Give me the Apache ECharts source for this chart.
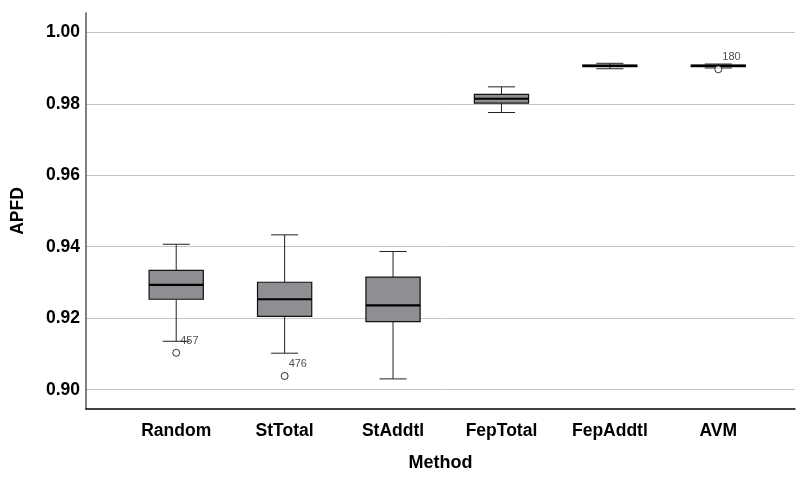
<!DOCTYPE html>
<html>
<head>
<meta charset="utf-8">
<script src="https://cdn.jsdelivr.net/npm/echarts@6/dist/echarts.min.js"></script>
<style>
html,body{margin:0;padding:0;background:#fff;}
#chart{width:796px;height:477px;}
</style>
</head>
<body>
<div id="chart"></div>
<script>
const categories = ['Random', 'StTotal', 'StAddtl', 'FepTotal', 'FepAddtl', 'AVM'];
const lowerWhisker = [0.9147, 0.9114, 0.9043, 0.9779, 0.9900, 0.9902];
const q1 = [0.9263, 0.9216, 0.9201, 0.9805, 0.99055, 0.9906];
const median = [0.9303, 0.9263, 0.9246, 0.9817, 0.9908, 0.9908];
const q3 = [0.9343, 0.9310, 0.9324, 0.9829, 0.9910, 0.9910];
const upperWhisker = [0.9415, 0.9441, 0.9395, 0.9850, 0.9915, 0.9913];
const outlierCategory = [0, 1, 5];
const outlierValue = [0.9115, 0.9051, 0.98985];
const outlierLabel = ['457', '476', '180'];
const yTickLabels = ['0.90', '0.92', '0.94', '0.96', '0.98', '1.00'];

const yMin = 0.8946, yMax = 1.0054;
const font = 'Liberation Sans, Arial, sans-serif';

const boxData = categories.map((c, i) => [i, lowerWhisker[i], q1[i], median[i], q3[i], upperWhisker[i]]);
const outlierData = outlierCategory.map((c, k) => [c, outlierValue[k], outlierLabel[k]]);

const chart = echarts.init(document.getElementById('chart'), null, {renderer: 'canvas'});
chart.setOption({
  animation: false,
  backgroundColor: '#fff',
  grid: [
    {left: 86, right: 1, top: 13, bottom: 63},
    {left: 122, right: 23.5, top: 13, bottom: 63}
  ],
  xAxis: [
    {
      gridIndex: 0, type: 'category', data: categories,
      axisLine: {show: true, lineStyle: {color: '#000', width: 1.5}},
      axisTick: {show: false}, axisLabel: {show: false}, splitLine: {show: false},
      name: 'Method', nameLocation: 'middle', nameGap: 45,
      nameTextStyle: {fontFamily: font, fontWeight: 'bold', fontSize: 18, color: '#000'}
    },
    {
      gridIndex: 1, type: 'category', data: categories,
      axisLine: {show: false}, axisTick: {show: false}, splitLine: {show: false},
      axisLabel: {fontFamily: font, fontWeight: 'bold', fontSize: 17.5, color: '#000', margin: 8}
    }
  ],
  yAxis: [
    {
      gridIndex: 0, type: 'value', min: yMin, max: yMax, splitNumber: 5,
      axisLine: {show: true, lineStyle: {color: '#555', width: 1.5}},
      axisTick: {show: false},
      splitLine: {show: true, showMinLine: false, showMaxLine: false, lineStyle: {color: '#c4c4c4', width: 1}},
      axisLabel: {
        showMinLabel: false, showMaxLabel: false, margin: 6,
        fontFamily: font, fontWeight: 'bold', fontSize: 17.5, color: '#000',
        formatter: v => {
          const s = v.toFixed(2);
          return yTickLabels.indexOf(s) >= 0 ? s : '';
        }
      },
      name: 'APFD', nameLocation: 'middle', nameGap: 59,
      nameTextStyle: {fontFamily: font, fontWeight: 'bold', fontSize: 17.5, color: '#000'}
    },
    {gridIndex: 1, type: 'value', min: yMin, max: yMax, show: false, splitLine: {show: false}}
  ],
  series: [
    {
      type: 'custom', xAxisIndex: 1, yAxisIndex: 1,
      data: boxData,
      encode: {x: 0, y: [1, 2, 3, 4, 5]},
      renderItem: function (params, api) {
        const i = api.value(0);
        const band = api.size([1, 0])[0];
        const bw = band * 0.5;
        const cw = bw * 0.5;
        const lo = api.coord([i, api.value(1)]);
        const b1 = api.coord([i, api.value(2)]);
        const md = api.coord([i, api.value(3)]);
        const b3 = api.coord([i, api.value(4)]);
        const hi = api.coord([i, api.value(5)]);
        const x = lo[0];
        const ws = {stroke: '#222', lineWidth: 1};
        return {
          type: 'group',
          children: [
            {type: 'line', shape: {x1: x, y1: lo[1], x2: x, y2: b1[1]}, style: ws},
            {type: 'line', shape: {x1: x, y1: b3[1], x2: x, y2: hi[1]}, style: ws},
            {type: 'line', shape: {x1: x - cw / 2, y1: lo[1], x2: x + cw / 2, y2: lo[1]}, style: ws},
            {type: 'line', shape: {x1: x - cw / 2, y1: hi[1], x2: x + cw / 2, y2: hi[1]}, style: ws},
            {type: 'rect', shape: {x: x - bw / 2, y: b3[1], width: bw, height: b1[1] - b3[1]},
              style: {fill: '#8f8f93', stroke: '#111', lineWidth: 1.2}},
            {type: 'line', shape: {x1: x - bw / 2, y1: md[1], x2: x + bw / 2, y2: md[1]},
              style: {stroke: '#000', lineWidth: 2.2}}
          ]
        };
      }
    },
    {
      type: 'scatter', xAxisIndex: 1, yAxisIndex: 1,
      data: outlierData,
      symbol: 'circle', symbolSize: 7,
      itemStyle: {color: '#fff', borderColor: '#000', borderWidth: 1},
      label: {
        show: true, position: 'right', distance: 0, offset: [0, -12],
        formatter: p => p.data[2],
        fontFamily: font, fontSize: 11, color: '#222'
      },
      emphasis: {disabled: true}
    }
  ]
});
</script>
</body>
</html>
